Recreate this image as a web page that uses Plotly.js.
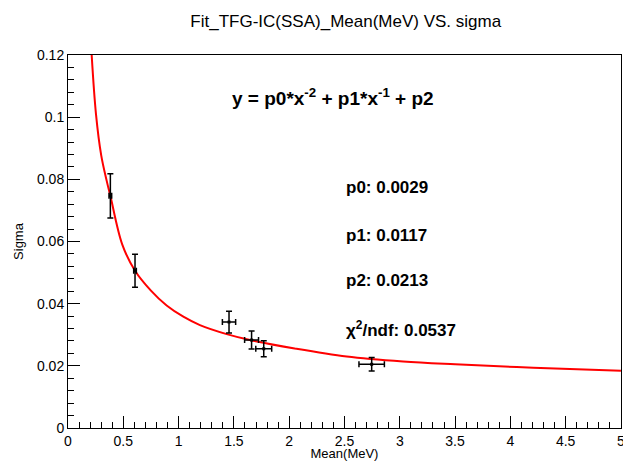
<!DOCTYPE html>
<html>
<head>
<meta charset="utf-8">
<script src="https://cdn.plot.ly/plotly-3.0.1.min.js"></script>
<style>html,body{margin:0;padding:0;background:#fff;}#chart{width:623px;height:461px;}</style>
</head>
<body>
<div id="chart"></div>
<script>
// Measured points
const meanX = [0.383, 0.606, 1.456, 1.66, 1.77, 2.746];
const meanXErr = [0.012, 0.012, 0.06, 0.063, 0.072, 0.115];
const sigmaY = [0.0747, 0.0506, 0.0341, 0.0283, 0.0255, 0.0205];
const sigmaYErr = [0.0071, 0.0053, 0.0035, 0.0029, 0.0026, 0.0022];

// Fit curve
const fitX = [0.214, 0.253, 0.30, 0.35, 0.383, 0.491, 0.606, 0.75, 0.892, 1.043, 1.193, 1.435, 1.646, 2.05, 2.52, 3.03, 3.5, 4.207, 5.0];
const fitY = [0.12, 0.101, 0.0878, 0.0795, 0.0747, 0.059, 0.0506, 0.0442, 0.0394, 0.0358, 0.0331, 0.0302, 0.0283, 0.0256, 0.0230, 0.0214, 0.0205, 0.0194, 0.0184];

const titleText = "Fit_TFG-IC(SSA)_Mean(MeV) VS. sigma";
const formulaText = "y = p0*x<sup>-2</sup> + p1*x<sup>-1</sup> + p2";
const paramLabels = ["p0: 0.0029", "p1: 0.0117", "p2: 0.0213", "χ<sup>2</sup>/ndf: 0.0537"];
const paramY = [0.0775, 0.062, 0.0475, 0.032];

const font = "Liberation Sans, Arial, sans-serif";

const traces = [
  {
    x: fitX, y: fitY, type: 'scatter', mode: 'lines',
    line: {color: '#ff0000', width: 2, shape: 'spline', smoothing: 1},
    hoverinfo: 'skip'
  },
  {
    x: meanX, y: sigmaY, type: 'scatter', mode: 'markers',
    marker: {color: '#000', size: 3, symbol: 'square'},
    error_x: {type: 'data', array: meanXErr, color: '#000', thickness: 1.5, width: 3},
    error_y: {type: 'data', array: sigmaYErr, color: '#000', thickness: 1.5, width: 3}
  }
];

const annotations = [
  {text: formulaText, x: 0.48, y: 0.1065, xref: 'paper', yref: 'y', showarrow: false,
   xanchor: 'center', yanchor: 'middle', font: {family: font, size: 19, color: '#000', weight: 'bold'}}
];
paramLabels.forEach((t, i) => annotations.push({
  text: t, x: 2.5, y: paramY[i], xref: 'x', yref: 'y', showarrow: false,
  xanchor: 'left', yanchor: 'middle', font: {family: font, size: 17, color: '#000', weight: 'bold'}
}));

const layout = {
  width: 623, height: 461,
  margin: {l: 68, r: 2, t: 55, b: 33},
  paper_bgcolor: '#fff', plot_bgcolor: '#fff',
  showlegend: false,
  font: {family: font, color: '#000'},
  title: {text: titleText, x: 0.555, xanchor: 'center', y: 0.955, yanchor: 'middle',
          font: {family: font, size: 17, color: '#000'}},
  xaxis: {
    range: [0, 5.0005], dtick: 0.5, tick0: 0,
    showgrid: false, zeroline: false,
    showline: true, mirror: true, linecolor: '#000', linewidth: 1,
    ticks: 'inside', ticklen: 12, tickcolor: '#000', tickwidth: 1,
    ticklabeloverflow: 'allow',
    minor: {dtick: 0.1, ticks: 'inside', ticklen: 6, tickcolor: '#000', showgrid: false},
    tickfont: {family: font, size: 14, color: '#000'},
    title: {text: 'Mean(MeV)', font: {family: font, size: 13, color: '#000'}, standoff: 0}
  },
  yaxis: {
    range: [0, 0.12], dtick: 0.02, tick0: 0,
    showgrid: false, zeroline: false,
    showline: true, mirror: true, linecolor: '#000', linewidth: 1,
    ticks: 'inside', ticklen: 12, tickcolor: '#000', tickwidth: 1,
    minor: {dtick: 0.004, ticks: 'inside', ticklen: 6, tickcolor: '#000', showgrid: false},
    tickfont: {family: font, size: 14, color: '#000'},
    title: {text: 'Sigma', font: {family: font, size: 13, color: '#000'}, standoff: 10}
  },
  annotations: annotations
};

Plotly.newPlot('chart', traces, layout, {displayModeBar: false, staticPlot: true});
</script>
</body>
</html>
